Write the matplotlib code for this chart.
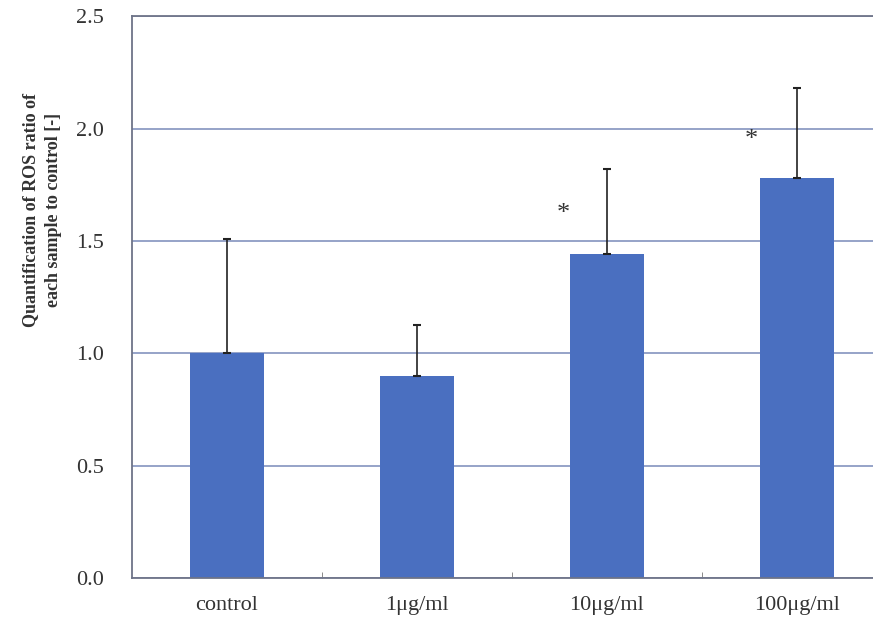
import matplotlib.pyplot as plt
import numpy as np

categories = ['control', '1μg/ml', '10μg/ml', '100μg/ml']
means = [1.00, 0.90, 1.44, 1.78]
upper_err = [0.51, 0.225, 0.38, 0.40]
star_x = [1.77, 2.76]
star_y = [1.62, 1.95]

plt.rcParams['font.family'] = ['Liberation Serif', 'DejaVu Serif']

fig = plt.figure(figsize=(8.73, 6.25), dpi=100)
ax = fig.add_axes([0.151, 0.075, 0.849, 0.899])

x = np.arange(len(categories))
ax.yaxis.grid(True, color='#8e9cc4', linewidth=1.3)
ax.set_axisbelow(True)
ax.bar(x, means, width=0.39, color='#4a6fc0', zorder=2,
       yerr=[np.zeros(len(means)), upper_err],
       error_kw=dict(ecolor='#222222', elinewidth=1.2, capsize=3, capthick=1.5))

for sx, sy in zip(star_x, star_y):
    ax.text(sx, sy, '*', fontsize=19, ha='center', va='center', color='#333333')

ax.set_xlim(-0.5, 3.4)
ax.set_ylim(0, 2.5)
ax.set_yticks(np.arange(0, 2.51, 0.5))
ax.set_yticklabels(['%.1f' % v for v in np.arange(0, 2.51, 0.5)])
ax.set_xticks(x)
ax.set_xticklabels(categories)
ax.set_xticks(x[:-1] + 0.5, minor=True)
ax.tick_params(axis='y', length=0, pad=20, labelsize=16, labelcolor='#333333')
ax.tick_params(axis='x', which='major', length=0, pad=13, labelsize=16, labelcolor='#333333')
ax.tick_params(axis='x', which='minor', direction='in', length=4, color='#777777')

for side in ['left', 'bottom', 'top']:
    ax.spines[side].set_color('#6e7488')
    ax.spines[side].set_linewidth(1.3)
ax.spines['right'].set_visible(False)

ax.set_ylabel('Quantification of ROS ratio of\neach sample to control [-]',
              fontsize=13, fontweight='bold', color='#333333',
              linespacing=1.45)
ax.yaxis.set_label_coords(-0.094, 0.655)

plt.savefig('out.png', dpi=100)
